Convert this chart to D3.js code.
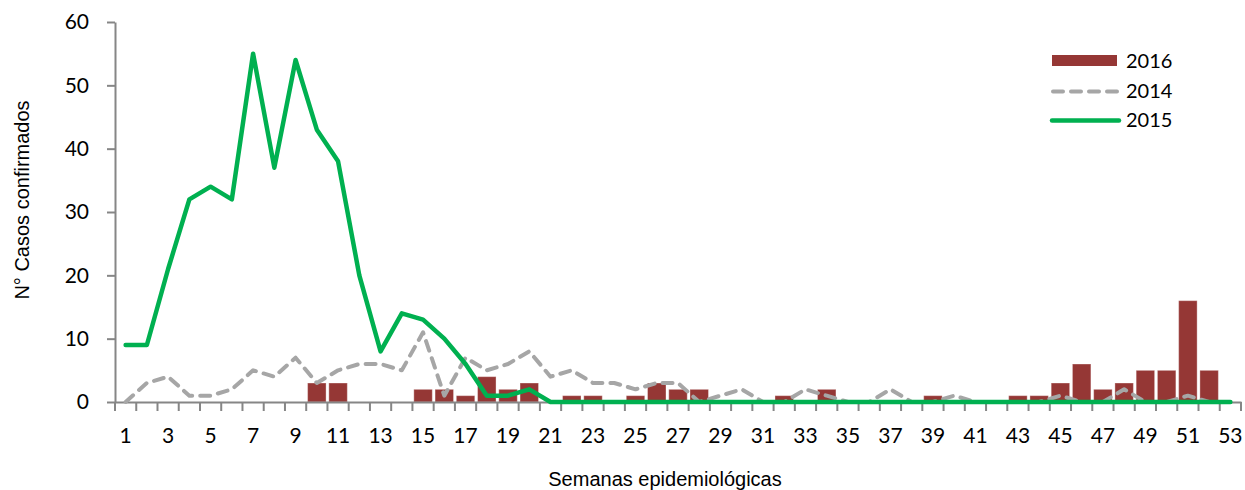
<!DOCTYPE html>
<html>
<head>
<meta charset="utf-8">
<script src="https://cdn.jsdelivr.net/npm/d3@7"></script>
<style>
  body { margin: 0; background: #fff; }
  svg { display: block; }
</style>
</head>
<body>
<div id="chart"></div>
<script>
// weeks 1..53
const weeks = d3.range(1, 54);

// 2016 bars (confirmed cases)
const cases2016 = [0,0,0,0,0,0,0,0,0,3, 3,0,0,0,2,2,1,4,2,3, 0,1,1,0,1,3,2,2,0,0, 0,1,0,2,0,0,0,0,1,0, 0,0,1,1,3,6,2,3,5,5, 16,5,0];
// 2014 dashed line
const cases2014 = [0,3,4,1,1,2,5,4,7,3, 5,6,6,5,11,1,7,5,6,8, 4,5,3,3,2,3,3,0,1,2, 0,0,2,1,0,0,2,0,0,1, 0,0,0,0,1,0,0,2,0,0, 1,0,0];
// 2015 solid line
const cases2015 = [9,9,21,32,34,32,55,37,54,43, 38,20,8,14,13,10,6,1,1,2, 0,0,0,0,0,0,0,0,0,0, 0,0,0,0,0,0,0,0,0,0, 0,0,0,0,0,0,0,0,0,0, 0,0,0];

const yTicks = [0, 10, 20, 30, 40, 50, 60];
const legendItems = ["2016", "2014", "2015"];

const W = 1245, H = 490;
const plotLeft = 115, plotRight = 1241, plotTop = 22, plotBottom = 402;
const axisColor = "#868686";
const tickFont = "Lato, 'Open Sans', sans-serif";
const titleFont = "'Liberation Sans', Arial, sans-serif";

const svg = d3.select("#chart").append("svg")
  .attr("width", W).attr("height", H);

const x = d3.scaleBand().domain(weeks).range([plotLeft, plotRight])
  .paddingInner(0.13).paddingOuter(0.065);
const step = (plotRight - plotLeft) / weeks.length;
const cx = d => x(d) + x.bandwidth() / 2;

const y = d3.scaleLinear().domain([0, 60]).range([plotBottom, plotTop]);

// bars 2016
svg.append("g").selectAll("rect")
  .data(weeks.filter((w, i) => cases2016[i] > 0))
  .join("rect")
    .attr("x", d => x(d))
    .attr("width", x.bandwidth())
    .attr("y", d => y(cases2016[d - 1]))
    .attr("height", d => y(0) - y(cases2016[d - 1]))
    .attr("fill", "#953735")
    .attr("stroke", "#fff")
    .attr("stroke-opacity", 0.35)
    .attr("stroke-width", 1);

// y axis
const yAxis = svg.append("g")
  .attr("transform", `translate(${plotLeft},0)`)
  .call(d3.axisLeft(y).tickValues(yTicks).tickSize(8).tickSizeOuter(0).tickPadding(18));
yAxis.select(".domain").attr("stroke", axisColor).attr("stroke-width", 2);
yAxis.selectAll(".tick line").attr("stroke", axisColor).attr("stroke-width", 2);
yAxis.selectAll(".tick text").attr("font-family", tickFont).attr("font-size", 21).attr("fill", "#000");

// x axis
const xAxis = svg.append("g")
  .attr("transform", `translate(0,${plotBottom})`)
  .call(d3.axisBottom(x).tickSize(0).tickSizeOuter(0).tickPadding(26)
    .tickFormat(d => d % 2 === 1 ? d : ""));
xAxis.select(".domain").attr("stroke", axisColor).attr("stroke-width", 2);
xAxis.selectAll(".tick text").attr("font-family", tickFont).attr("font-size", 21).attr("fill", "#000");
// tick marks between categories
xAxis.append("g").selectAll("line")
  .data(d3.range(weeks.length + 1))
  .join("line")
    .attr("x1", i => plotLeft + i * step)
    .attr("x2", i => plotLeft + i * step)
    .attr("y1", 0).attr("y2", 9)
    .attr("stroke", axisColor).attr("stroke-width", 2);

// 2014 dashed line
const line = d3.line().x((d, i) => cx(weeks[i])).y(d => y(d));
svg.append("path")
  .datum(cases2014)
  .attr("d", line)
  .attr("fill", "none")
  .attr("stroke", "#a6a6a6")
  .attr("stroke-width", 4)
  .attr("stroke-linecap", "round")
  .attr("stroke-linejoin", "round")
  .attr("stroke-dasharray", "10,8");

// 2015 solid line
svg.append("path")
  .datum(cases2015)
  .attr("d", line)
  .attr("fill", "none")
  .attr("stroke", "#00b050")
  .attr("stroke-width", 4.5)
  .attr("stroke-linecap", "round")
  .attr("stroke-linejoin", "round");

// legend
const lg = svg.append("g").attr("transform", "translate(1052,0)");
lg.append("rect").attr("x", 0).attr("y", 55).attr("width", 65).attr("height", 11).attr("fill", "#953735");
lg.append("line").attr("x1", 1).attr("x2", 67).attr("y1", 91.5).attr("y2", 91.5)
  .attr("stroke", "#a6a6a6").attr("stroke-width", 4).attr("stroke-linecap", "round").attr("stroke-dasharray", "10,8");
lg.append("line").attr("x1", 0).attr("x2", 67).attr("y1", 120.5).attr("y2", 120.5)
  .attr("stroke", "#00b050").attr("stroke-width", 4.5).attr("stroke-linecap", "round");
lg.selectAll("text").data(legendItems).join("text")
  .attr("x", 74)
  .attr("y", (d, i) => 68 + i * 29.5)
  .attr("font-family", tickFont).attr("font-size", 20)
  .text(d => d);

// axis titles
svg.append("text")
  .attr("x", 665).attr("y", 486)
  .attr("text-anchor", "middle")
  .attr("font-family", titleFont).attr("font-size", 20)
  .text("Semanas epidemiológicas");

svg.append("text")
  .attr("transform", "translate(29,200) rotate(-90)")
  .attr("text-anchor", "middle")
  .attr("font-family", titleFont).attr("font-size", 20)
  .text("N° Casos confirmados");
</script>
</body>
</html>
